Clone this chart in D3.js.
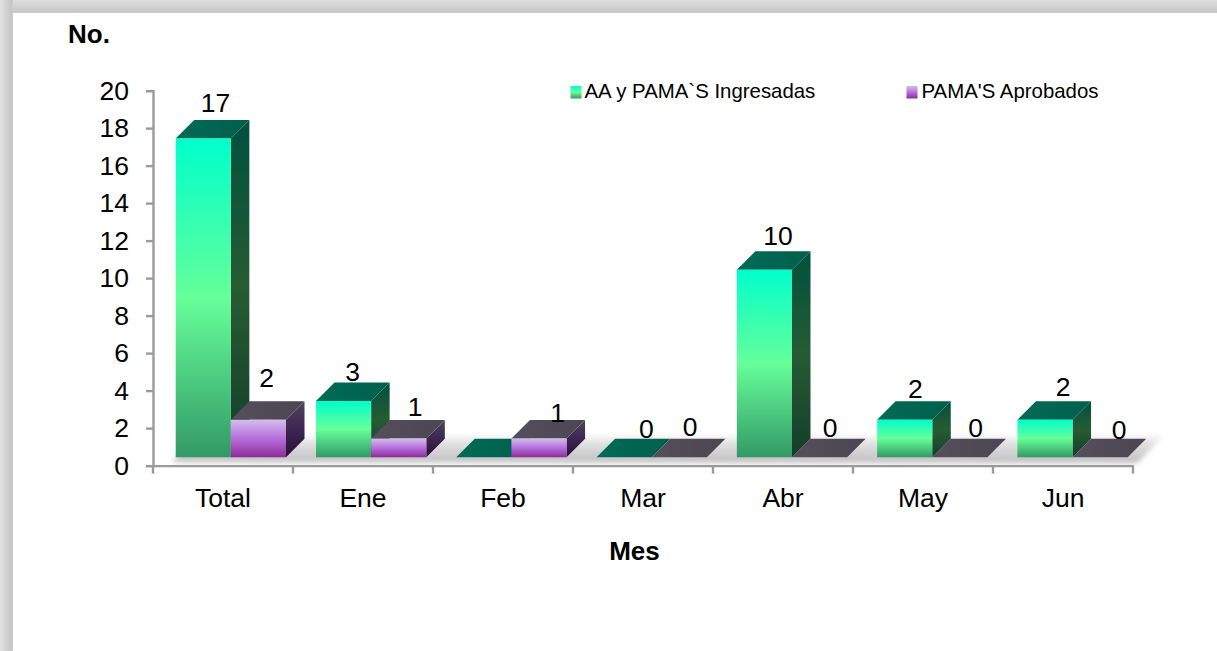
<!DOCTYPE html>
<html><head><meta charset="utf-8">
<script src="https://cdn.jsdelivr.net/npm/d3@7"></script>
<style>
html,body{margin:0;padding:0;background:#fff;overflow:hidden}
svg{display:block}
text{font-family:"Liberation Sans",Arial,sans-serif;fill:#000}
</style></head><body>
<svg id="c" width="1217" height="651"></svg>
<script>
const categories = ["Total","Ene","Feb","Mar","Abr","May","Jun"];
const seriesNames = ["AA y PAMA`S Ingresadas","PAMA'S Aprobados"];
const ingresadas = [17,3,0,0,10,2,2];
const aprobados = [2,1,1,0,0,0,0];
const yTicks = [0,2,4,6,8,10,12,14,16,18,20];
// hand placement of the value labels relative to each bar's top (null = no label)
const labelNudgeA = [[3,-4],[-0.3,2.5],null,[13.1,4],[4.3,-2],[1.5,1],[8.8,-1]];
const labelNudgeB = [[-1,-10],[7.2,0],[9.4,6],[1.6,2],[1.3,3],[6.5,3],[9.8,5]];

const W=1217,H=651,FS=26.5;
const svg=d3.select("#c");
const defs=svg.append("defs");
function grad(id,stops,x2=0,y2=1){
  const g=defs.append("linearGradient").attr("id",id).attr("x1",0).attr("y1",0).attr("x2",x2).attr("y2",y2);
  stops.forEach(s=>g.append("stop").attr("offset",s[0]).attr("stop-color",s[1]));
}
grad("frameTop",[[0,"#dedede"],[0.92,"#c6c6c6"],[1,"#d4d4d4"]]);
grad("frameLeft",[[0,"#e2e2e2"],[0.92,"#c4c4c4"],[1,"#d4d4d4"]],1,0);
grad("gFront",[[0,"#00ffcc"],[0.5,"#66ff99"],[1,"#339966"]]);
grad("gSide",[[0,"#00513f"],[0.5,"#265c33"],[1,"#143d2a"]]);
grad("gTop",[[0,"#006b55"],[1,"#005f4c"]],1,0);
grad("pFront",[[0,"#d4bdec"],[0.5,"#b56fdc"],[1,"#8c2c98"]]);
grad("pSide",[[0,"#4e4560"],[0.5,"#3c2650"],[1,"#2a0e3a"]]);
grad("pTop",[[0,"#554e5b"],[1,"#4c4652"]],1,0);
grad("floor",[[0,"#ffffff"],[0.35,"#e0e0e0"],[1,"#bfbfbf"]]);
defs.append("filter").attr("id","blur").attr("x","-5%").attr("y","-50%").attr("width","110%").attr("height","200%")
  .append("feGaussianBlur").attr("stdDeviation",2.5);

// frame
svg.append("rect").attr("width",W).attr("height",13).attr("fill","url(#frameTop)");
svg.append("rect").attr("width",13).attr("height",H).attr("fill","url(#frameLeft)");

const axisLeftX=153, axisRightX=1133, y0=465.6, yTop=90.6;
const depth=18.5, lift=8.3, axisColor="#9a9a9a", axisW=2.4;
const x=d3.scaleBand().domain(categories).range([axisLeftX,axisRightX]).padding(0);
const xBar=d3.scaleBand().domain(categories).range([152.7,1134.7]).padding(0);
const xS=d3.scaleBand().domain([0,1]).range([23,133.3]).padding(0);
const y=d3.scaleLinear().domain([0,20]).range([y0,yTop]);
const bw=xS.bandwidth();

// floor shadow
const base=y(0)-lift;
svg.append("polygon")
  .attr("points",[[172,base+5],[1137,base+6],[1166,base-24],[200,base-24]].map(p=>p.join(",")).join(" "))
  .attr("fill","url(#floor)").attr("filter","url(#blur)");

// axes
const axL=d3.axisLeft(y).tickValues(yTicks).tickSize(7).tickPadding(17);
const axB=d3.axisBottom(x).tickSize(0).tickPadding(0);
const gL=svg.append("g").attr("transform",`translate(${axisLeftX},0)`).call(axL);
const gB=svg.append("g").attr("transform",`translate(0,${y0})`).call(axB);
gL.selectAll("path,line").attr("stroke",axisColor).attr("stroke-width",axisW);
gL.selectAll("text").attr("font-size",FS).attr("fill","#000").attr("dy","0.33em");
gB.selectAll("path").attr("stroke",axisColor).attr("stroke-width",axisW);
gB.selectAll(".tick line").remove();
gB.selectAll(".tick text").attr("font-size",FS).attr("fill","#000").attr("y",41.5).attr("dy",0);
svg.append("g").selectAll("line").data([...categories.map(c=>x(c)),axisRightX]).join("line")
  .attr("x1",d=>d).attr("x2",d=>d).attr("y1",y0).attr("y2",y0+8)
  .attr("stroke",axisColor).attr("stroke-width",axisW);

// bars
const series=[
  {vals:ingresadas,front:"url(#gFront)",side:"url(#gSide)",top:"url(#gTop)",nudge:labelNudgeA},
  {vals:aprobados,front:"url(#pFront)",side:"url(#pSide)",top:"url(#pTop)",nudge:labelNudgeB}
];
const poly=pts=>pts.map(p=>p.join(",")).join(" ");
const unit=y(0)-y(1);
series.forEach((s,si)=>{
  const g=svg.append("g");
  const d=categories.map((c,i)=>({x0:xBar(c)+xS(si),top:base-unit*s.vals[i],v:s.vals[i]}));
  g.selectAll(".side").data(d.filter(e=>e.v>0)).join("polygon")
    .attr("points",e=>poly([[e.x0+bw,e.top],[e.x0+bw+depth,e.top-depth],[e.x0+bw+depth,base-depth],[e.x0+bw,base]]))
    .attr("fill",s.side);
  g.selectAll(".topf").data(d).join("polygon")
    .attr("points",e=>poly([[e.x0,e.top],[e.x0+depth,e.top-depth],[e.x0+bw+depth,e.top-depth],[e.x0+bw,e.top]]))
    .attr("fill",s.top);
  g.selectAll(".front").data(d.filter(e=>e.v>0)).join("rect")
    .attr("x",e=>e.x0).attr("y",e=>e.top).attr("width",bw).attr("height",e=>base-e.top)
    .attr("fill",s.front);
});
// value labels
series.forEach((s,si)=>{
  svg.append("g").selectAll("text").data(categories.map((c,i)=>({c,i,v:s.vals[i]})).filter(e=>s.nudge[e.i])).join("text")
    .attr("x",e=>xBar(e.c)+xS(si)+bw/2+depth/2+s.nudge[e.i][0])
    .attr("y",e=>base-unit*e.v-depth-14+s.nudge[e.i][1])
    .attr("dy","0.36em").attr("text-anchor","middle").attr("font-size",FS)
    .text(e=>e.v);
});

// axis titles
svg.append("text").attr("x",68).attr("y",42.5).attr("font-size",26).attr("font-weight","bold").text("No.");
svg.append("text").attr("x",634.5).attr("y",559.5).attr("text-anchor","middle").attr("font-size",26).attr("font-weight","bold").text("Mes");

// legend
const legX=[570.5,906.5], legFill=["url(#gFront)","url(#pFront)"], legTextGap=[14,15];
seriesNames.forEach((n,i)=>{
  svg.append("rect").attr("x",legX[i]).attr("y",86).attr("width",11).attr("height",12.5).attr("fill",legFill[i]);
  svg.append("text").attr("x",legX[i]+legTextGap[i]).attr("y",98).attr("font-size",20.4).text(n);
});
</script></body></html>
